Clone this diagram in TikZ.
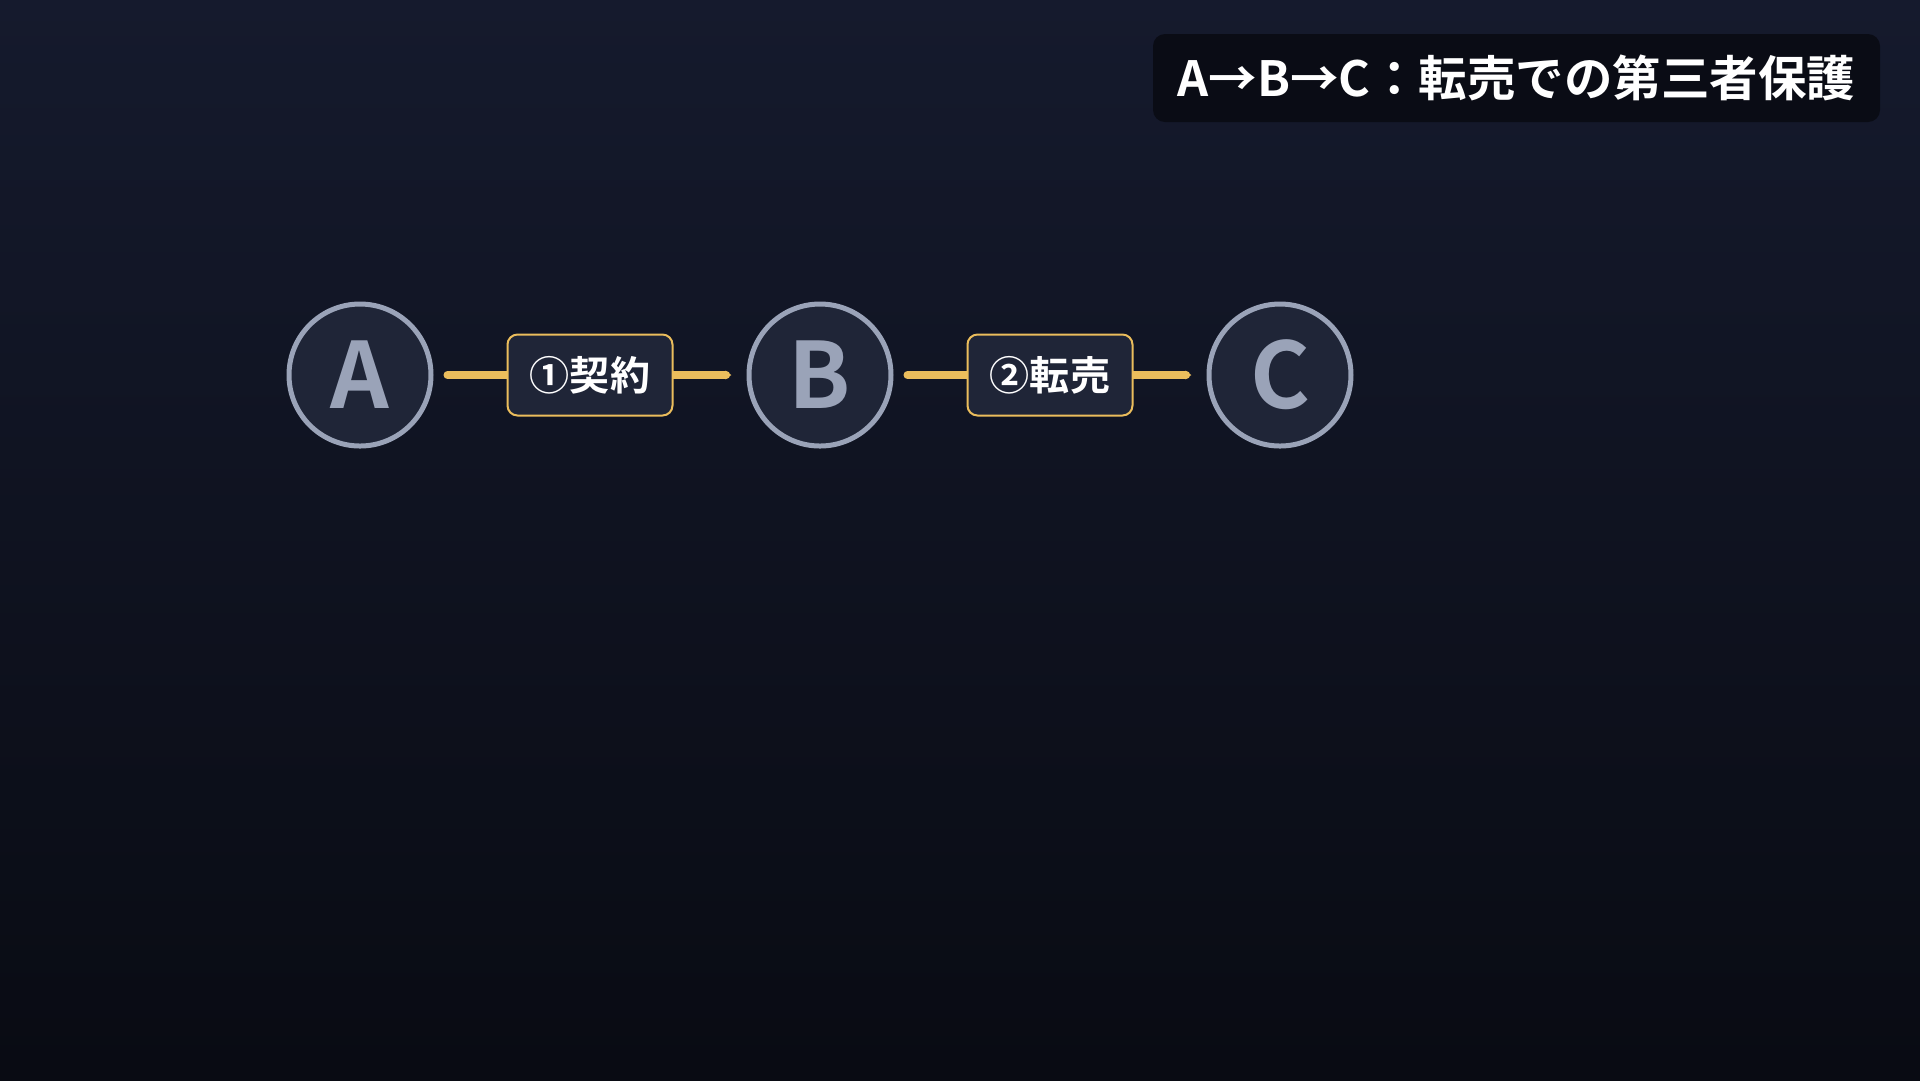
\documentclass[tikz,border=0pt]{standalone}
\usepackage{fontspec}
\setmainfont{Noto Sans CJK JP}[BoldFont={Noto Sans CJK JP Bold}]
\usetikzlibrary{arrows.meta,
                positioning}
\definecolor{bgtop}{HTML}{151A2D}
\definecolor{bgbottom}{HTML}{090B13}
\definecolor{titlefill}{HTML}{0A0C15}
\definecolor{nodefill}{HTML}{1F2537}
\definecolor{nodeline}{HTML}{9AA3B8}
\definecolor{gold}{HTML}{EBBD5C}
\tikzset{party/.style=
   {circle,
    draw=nodeline,
    fill=nodefill,
    line width=0.5mm,
    minimum size=14.2mm,
    inner sep=0pt,
    text=nodeline,
    font=\fontsize{26}{26}\selectfont\bfseries}}
\tikzset{deal/.style =
   {rectangle,
    draw=gold,
    fill=nodefill,
    line width=0.2mm,
    rounded corners=1mm,
    minimum width=16.5mm,
    minimum height=8.1mm,
    inner sep=0pt,
    text=white,
    font=\fontsize{11.4}{11.4}\selectfont\bfseries}}
\tikzset{titlebox/.style =
   {rectangle,
    fill=titlefill,
    rounded corners=1.2mm,
    minimum width=72.7mm,
    minimum height=8.8mm,
    inner sep=0pt,
    text=white,
    font=\fontsize{13.8}{13.8}\selectfont\bfseries}}
\tikzset{link/.style = {draw=gold,
                        line width=0.8mm,
                        line cap=round,
                        -{Latex[length=0.6mm,width=1.0mm]},
                        shorten <=1.4mm,
                        shorten >=1.5mm}}

\begin{document}
\begin{tikzpicture}[x=0.1mm, y=-0.1mm]

    % background
    \fill[top color=bgtop, bottom color=bgbottom] (0,0) rectangle (1920,1080);

    \node [titlebox] (title) at (1516.5,78)
    {A→B→C：転売での第三者保護};

    \node [party] (A) at (360,375) {A};

    \node [party,
           node distance = 31.3mm,
           right = of A] (B) {B};

    \node [party,
           node distance = 31.3mm,
           right = of B] (C) {C};

    \draw [link] (A) -- node [deal] (deal1) {①契約} (B);
    \draw [link] (B) -- node [deal] (deal2) {②転売} (C);

\end{tikzpicture}
\end{document}
